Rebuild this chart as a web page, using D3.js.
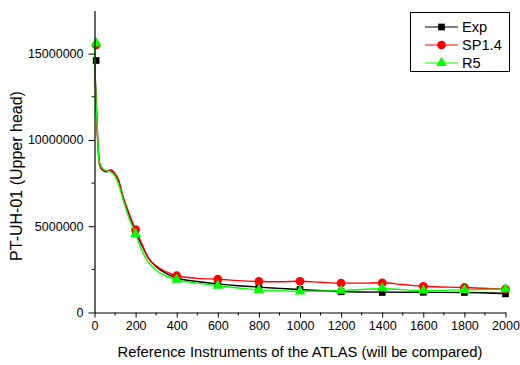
<!DOCTYPE html>
<html lang="en">
<head>
<meta charset="utf-8">
<title>PT-UH-01</title>
<script src="https://cdn.jsdelivr.net/npm/d3@7"></script>
<style>
  body { margin: 0; background: #fff; }
  svg text { font-family: "Liberation Sans", Arial, sans-serif; fill: #000; }
</style>
</head>
<body>
<script>
// values (y in units of 1e6)
var expLine = [[0,14.6],[5,13.2],[15,10.2],[25,8.6],[40,8.25],[60,8.15],[80,8.2],[100,8.0],[115,7.7],[140,6.6],[170,5.6],[200,4.7],[230,3.9],[260,3.2],[300,2.65],[350,2.25],[400,2.0],[500,1.8],[600,1.66],[700,1.55],[800,1.47],[900,1.4],[1000,1.33],[1200,1.22],[1400,1.18],[1600,1.17],[1800,1.16],[2000,1.1]];
var spLine = [[0,15.5],[5,13.0],[15,10.0],[25,8.55],[40,8.25],[60,8.2],[80,8.28],[100,8.05],[115,7.75],[140,6.7],[170,5.7],[200,4.8],[230,4.0],[260,3.2],[300,2.7],[350,2.35],[400,2.13],[500,1.98],[600,1.93],[700,1.85],[800,1.8],[900,1.78],[1000,1.81],[1100,1.75],[1200,1.7],[1300,1.7],[1400,1.72],[1500,1.62],[1600,1.52],[1800,1.45],[2000,1.35]];
var r5Line = [[0,15.6],[5,13.1],[15,10.4],[22,8.8],[40,8.35],[60,8.2],[80,8.15],[100,7.9],[115,7.5],[140,6.5],[170,5.4],[200,4.55],[230,3.6],[260,2.95],[300,2.45],[350,2.1],[400,1.9],[500,1.7],[600,1.55],[700,1.42],[800,1.31],[900,1.27],[1000,1.23],[1200,1.27],[1400,1.38],[1600,1.27],[1800,1.31],[2000,1.35]];

var markX = [8, 200, 400, 600, 800, 1000, 1200, 1400, 1600, 1800, 2000];
var expMarks = [14.6, 4.7, 2.0, 1.66, 1.47, 1.33, 1.2, 1.16, 1.17, 1.16, 1.08];
var spMarks = [15.5, 4.8, 2.13, 1.93, 1.8, 1.81, 1.7, 1.72, 1.52, 1.45, 1.35];
var r5Marks = [15.6, 4.55, 1.9, 1.55, 1.31, 1.23, 1.27, 1.41, 1.27, 1.31, 1.35];

var seriesNames = ["Exp", "SP1.4", "R5"];
var xTicks = [0, 200, 400, 600, 800, 1000, 1200, 1400, 1600, 1800, 2000];
var yTicks = [0, 5000000, 10000000, 15000000];

var width = 520, height = 365;
var x = d3.scaleLinear().domain([0, 2000]).range([94.5, 505.5]);
var y = d3.scaleLinear().domain([0, 17500000]).range([312.5, 10.5]);

var svg = d3.select("body").append("svg")
    .attr("width", width)
    .attr("height", height);

var series = [
  { name: seriesNames[0], color: "#000000", line: expLine, marks: expMarks, sym: d3.symbolSquare, size: 45 },
  { name: seriesNames[1], color: "#ff0000", line: spLine, marks: spMarks, sym: d3.symbolCircle, size: 60 },
  { name: seriesNames[2], color: "#00ff00", line: r5Line, marks: r5Marks, sym: d3.symbolTriangle, size: 50 }
];

var line = d3.line()
    .x(function(d) { return x(d[0]); })
    .y(function(d) { return y(d[1] * 1e6); })
    .curve(d3.curveMonotoneX);

series.forEach(function(s) {
  var g = svg.append("g");
  g.append("path")
      .datum(s.line)
      .attr("d", line)
      .attr("fill", "none")
      .attr("stroke", s.color)
      .attr("stroke-width", 1.4);
  g.selectAll("path.mk")
      .data(s.marks)
    .enter().append("path")
      .attr("class", "mk")
      .attr("d", d3.symbol().type(s.sym).size(s.size))
      .attr("transform", function(d, i) { return "translate(" + x(markX[i]) + "," + y(d * 1e6) + ")"; })
      .attr("fill", s.color);
});

// axes
var xAxis = svg.append("g").attr("transform", "translate(0,312.5)");
xAxis.call(d3.axisBottom(x).tickValues(xTicks).tickFormat(d3.format("d")).tickSize(5).tickSizeOuter(0).tickPadding(4));
xAxis.append("g").selectAll("line")
    .data(d3.range(100, 2000, 200))
  .enter().append("line")
    .attr("x1", function(d) { return x(d); }).attr("x2", function(d) { return x(d); })
    .attr("y1", 0).attr("y2", 3)
    .attr("stroke", "#000");

var yAxis = svg.append("g").attr("transform", "translate(94.5,0)");
yAxis.call(d3.axisLeft(y).tickValues(yTicks).tickFormat(d3.format("d")).tickSize(6).tickSizeOuter(0).tickPadding(5));
yAxis.append("g").selectAll("line")
    .data([2500000, 7500000, 12500000])
  .enter().append("line")
    .attr("x1", 0).attr("x2", -3)
    .attr("y1", function(d) { return y(d); }).attr("y2", function(d) { return y(d); })
    .attr("stroke", "#000");

svg.selectAll(".tick text").attr("font-size", 12.5).attr("font-family", "Liberation Sans, Arial, sans-serif");
svg.selectAll(".domain").attr("stroke-width", 1.2);

svg.append("text")
    .attr("x", 300).attr("y", 357)
    .attr("text-anchor", "middle")
    .attr("font-size", 14.8)
    .text("Reference Instruments of the ATLAS (will be compared)");

svg.append("text")
    .attr("transform", "translate(22,176) rotate(-90)")
    .attr("text-anchor", "middle")
    .attr("font-size", 16)
    .text("PT-UH-01 (Upper head)");

// legend
var legend = svg.append("g");
legend.append("rect")
    .attr("x", 410.5).attr("y", 12.5)
    .attr("width", 99).attr("height", 59)
    .attr("fill", "#fff").attr("stroke", "#000").attr("stroke-width", 1);

series.forEach(function(s, i) {
  var ly = 27 + i * 18;
  legend.append("line")
      .attr("x1", 425).attr("x2", 458)
      .attr("y1", ly).attr("y2", ly)
      .attr("stroke", s.color).attr("stroke-width", 1);
  legend.append("path")
      .attr("d", d3.symbol().type(s.sym).size(s.size))
      .attr("transform", "translate(441.5," + ly + ")")
      .attr("fill", s.color);
  legend.append("text")
      .attr("x", 462).attr("y", ly + 5)
      .attr("font-size", 14.6)
      .text(s.name);
});
</script>
</body>
</html>
